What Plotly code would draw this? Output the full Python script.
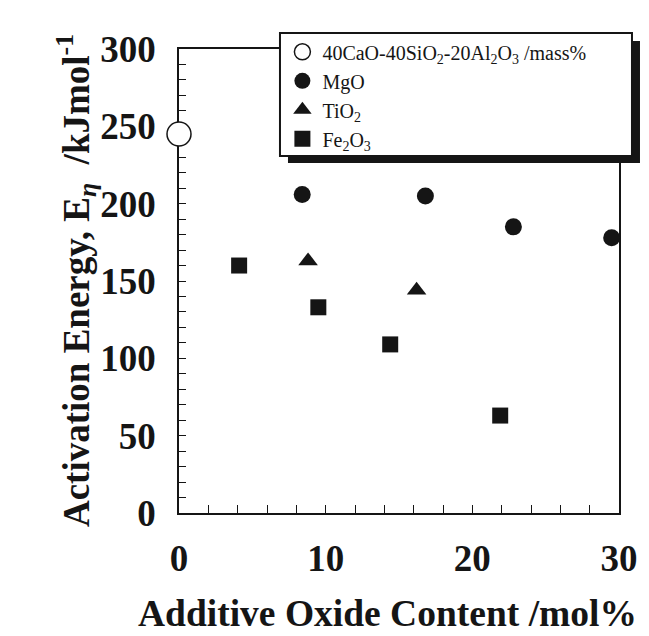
import plotly.graph_objects as go

# Data
base_x = [0]
base_y = [245]

mgo_x = [8.4, 16.8, 22.8, 29.5]
mgo_y = [206, 205, 185, 178]

tio2_x = [8.8, 16.2]
tio2_y = [163, 144]

fe2o3_x = [4.1, 9.5, 14.4, 21.9]
fe2o3_y = [160, 133, 109, 63]

x_ticks = [0, 10, 20, 30]
y_ticks = [0, 50, 100, 150, 200, 250, 300]

INK = "#151515"
SERIF = "Liberation Serif, Times New Roman, serif"

fig = go.Figure()

fig.add_trace(go.Scatter(
    x=base_x, y=base_y, mode="markers",
    name="40CaO-40SiO<sub>2</sub>-20Al<sub>2</sub>O<sub>3</sub> /mass%",
    marker=dict(symbol="circle", size=24, color="white", line=dict(color=INK, width=1.5)),
    cliponaxis=False,
))
fig.add_trace(go.Scatter(
    x=mgo_x, y=mgo_y, mode="markers", name="MgO",
    marker=dict(symbol="circle", size=17, color=INK, line=dict(width=0)),
    cliponaxis=False,
))
fig.add_trace(go.Scatter(
    x=tio2_x, y=tio2_y, mode="markers", name="TiO<sub>2</sub>",
    marker=dict(symbol="triangle-up", size=17, color=INK, line=dict(width=0)),
    cliponaxis=False,
))
fig.add_trace(go.Scatter(
    x=fe2o3_x, y=fe2o3_y, mode="markers", name="Fe<sub>2</sub>O<sub>3</sub>",
    marker=dict(symbol="square", size=16, color=INK, line=dict(width=0)),
    cliponaxis=False,
))

# legend frame with drop shadow
fig.add_shape(type="rect", xref="paper", yref="paper",
              x0=0.2477, x1=1.0477, y0=0.7543, y1=1.0172,
              fillcolor=INK, line=dict(width=0), layer="above")
fig.add_shape(type="rect", xref="paper", yref="paper",
              x0=0.2295, x1=1.0295, y0=0.7694, y1=1.0345,
              fillcolor="white", line=dict(color=INK, width=2), layer="above")

# axis titles as annotations
fig.add_annotation(
    text="<b>Activation Energy, E<sub><i>η</i></sub>  /kJmol<sup>-1</sup></b>",
    xref="paper", yref="paper", x=-0.234, y=0.50,
    xanchor="center", yanchor="middle", textangle=-90, showarrow=False,
    font=dict(family=SERIF, size=37, color=INK),
)
fig.add_annotation(
    text="<b>Additive Oxide Content /mol%</b>",
    xref="paper", yref="paper", x=0.474, y=-0.216,
    xanchor="center", yanchor="middle", showarrow=False,
    font=dict(family=SERIF, size=37.5, color=INK),
)

fig.update_layout(
    width=649, height=636,
    margin=dict(l=171, r=38, t=41, b=131, autoexpand=False),
    paper_bgcolor="white", plot_bgcolor="white",
    font=dict(family=SERIF, color=INK),
    showlegend=True,
    legend=dict(
        x=0.235, y=1.036, xanchor="left", yanchor="top",
        bgcolor="rgba(0,0,0,0)", borderwidth=0,
        font=dict(family=SERIF, size=20, color=INK),
        tracegroupgap=0, itemwidth=30,
    ),
    xaxis=dict(
        range=[0, 30], tickvals=x_ticks,
        showline=True, linecolor=INK, linewidth=1.5, mirror=True,
        ticks="inside", ticklen=8, tickcolor=INK, tickwidth=1,
        minor=dict(dtick=2, ticks="inside", ticklen=8, tickcolor=INK, tickwidth=1),
        showgrid=False, zeroline=False,
        tickfont=dict(family=SERIF, size=37, color=INK, weight="bold"),
        ticklabelstandoff=12,
        layer="below traces", automargin=False,
    ),
    yaxis=dict(
        range=[0, 300], tickvals=y_ticks,
        showline=True, linecolor=INK, linewidth=1.5, mirror=True,
        ticks="inside", ticklen=7, tickcolor=INK, tickwidth=1,
        minor=dict(dtick=10, ticks="inside", ticklen=7, tickcolor=INK, tickwidth=1),
        showgrid=False, zeroline=False,
        tickfont=dict(family=SERIF, size=37, color=INK, weight="bold"),
        ticklabelstandoff=14,
        layer="below traces", automargin=False,
    ),
)

fig.write_html("out.html")
